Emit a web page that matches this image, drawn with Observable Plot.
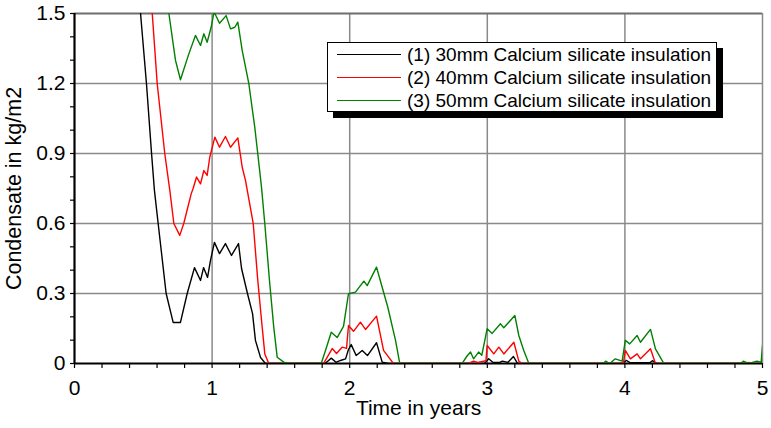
<!DOCTYPE html>
<html>
<head>
<meta charset="utf-8">
<script src="https://cdn.jsdelivr.net/npm/d3@7"></script>
<script src="https://cdn.jsdelivr.net/npm/@observablehq/plot@0.6"></script>
<style>
  html, body { margin: 0; padding: 0; background: #fff; }
  #wrap { position: relative; width: 771px; height: 428px; font-family: "Liberation Sans", Arial, sans-serif; }
  #legend { position: absolute; left: 327px; top: 42px; width: 388px; height: 68px; border: 1px solid #000; background: #fff; box-shadow: 6px 6px 0 #000; }
  .lline { position: absolute; left: 9px; width: 64px; height: 0; }
  .ltext { position: absolute; left: 79px; height: 22px; line-height: 22px; font-size: 19px; color: #000; white-space: nowrap; }
</style>
</head>
<body>
<div id="wrap"></div>
<script>
// Series names
const seriesNames = [
  "(1) 30mm Calcium silicate insulation",
  "(2) 40mm Calcium silicate insulation",
  "(3) 50mm Calcium silicate insulation"
];
const seriesColors = ["#000000", "#ff0000", "#008000"];

// Series 1 (30mm)
const t1 = [0.48,0.523,0.56,0.581,0.608,0.666,0.717,0.77,0.819,0.872,0.916,0.938,0.967,0.988,1.017,1.054,1.097,1.141,1.192,1.214,1.257,1.294,1.315,1.352,1.388,
            1.82,1.84,1.866,1.9,1.933,1.97,1.991,2.011,2.047,2.091,2.129,2.195,2.236,2.282,
            2.98,3.01,3.04,3.09,3.11,3.15,3.19,3.22,
            3.98,4.01,4.04,4.18,4.2,4.23,5];
const v1 = [1.5,1.2,0.9,0.741,0.6,0.3,0.176,0.176,0.3,0.411,0.356,0.411,0.369,0.441,0.519,0.471,0.514,0.463,0.514,0.407,0.3,0.214,0.099,0.026,0,
            0,0.01,0.023,0.005,0.013,0.02,0.06,0.081,0.034,0.056,0.034,0.089,0.006,0,
            0,0.02,0.005,0.005,0.01,0.005,0.03,0,
            0,0.013,0.003,0.003,0.012,0,0];

// Series 2 (40mm)
const t2 = [0.565,0.601,0.656,0.693,0.722,0.765,0.794,0.848,0.862,0.887,0.916,0.94,0.964,0.983,1.02,1.054,1.097,1.134,1.187,1.219,1.243,1.299,1.332,1.364,1.383,1.412,
            1.81,1.873,1.904,1.945,1.977,1.991,2.028,2.078,2.115,2.195,2.246,2.318,
            2.863,2.9,2.93,2.99,2.999,3.047,3.084,3.12,3.193,3.229,3.254,
            3.97,3.99,4.003,4.04,4.089,4.113,4.186,4.222,
            4.88,4.9,4.92,4.99,5];
const v2 = [1.5,1.2,0.9,0.741,0.6,0.549,0.6,0.727,0.75,0.799,0.77,0.827,0.806,0.884,0.97,0.927,0.973,0.927,0.967,0.841,0.784,0.599,0.356,0.156,0.041,0,
            0,0.064,0.043,0.07,0.065,0.163,0.138,0.177,0.146,0.203,0.056,0,
            0,0.01,0.005,0.012,0.077,0.041,0.07,0.041,0.091,0.01,0,
            0,0.005,0.056,0.02,0.041,0.02,0.063,0,
            0,0.005,0,0,0.027];

// Series 3 (50mm)
const t3 = [0.686,0.734,0.77,0.831,0.879,0.916,0.94,0.964,0.993,1.012,1.02,1.054,1.102,1.134,1.165,1.187,1.219,1.267,1.31,1.332,1.359,1.383,1.417,1.448,1.473,1.521,1.557,
            1.793,1.824,1.866,1.909,1.955,1.991,2.042,2.103,2.127,2.195,2.236,2.277,2.333,2.364,
            2.817,2.85,2.878,2.9,2.937,2.96,2.999,3.035,3.096,3.12,3.2,3.229,3.265,3.302,
            3.84,3.86,3.89,3.93,3.98,4.003,4.035,4.089,4.113,4.186,4.222,4.283,
            4.84,4.86,4.9,4.96,4.99,5];
const v3 = [1.5,1.299,1.216,1.327,1.406,1.363,1.413,1.377,1.441,1.499,1.5,1.458,1.491,1.434,1.441,1.463,1.341,1.199,1.013,0.899,0.756,0.599,0.356,0.156,0.027,0.006,0,
            0,0.056,0.134,0.111,0.159,0.299,0.306,0.353,0.334,0.413,0.327,0.241,0.099,0,
            0,0.03,0.049,0.02,0.049,0.035,0.149,0.129,0.17,0.153,0.206,0.12,0.056,0,
            0,0.01,0,0.02,0.01,0.099,0.084,0.12,0.091,0.146,0.063,0,
            0,0.01,0,0.01,0.005,0.077];

// Axis ticks
const xMajor = [0, 1, 2, 3, 4, 5];
const xMinor = d3.range(0, 5.0001, 0.2).map(d => +d.toFixed(1));
const yMajor = [0, 0.3, 0.6, 0.9, 1.2, 1.5];
const yMinor = d3.range(0, 1.5001, 0.1).map(d => +d.toFixed(1));

const tSeries = [t1, t2, t3];
const vSeries = [v1, v2, v3];
const rows = [];
tSeries.forEach((ts, i) => ts.forEach((t, j) => rows.push({t, v: vSeries[i][j], s: seriesNames[i]})));

const font = "Liberation Sans, Arial, sans-serif";

const chart = Plot.plot({
  width: 771,
  height: 428,
  marginLeft: 74,
  marginRight: 9,
  marginTop: 13,
  marginBottom: 65,
  style: {fontFamily: font, fontSize: "21px", color: "#000", background: "#fff"},
  x: {domain: [0, 5], label: null},
  y: {domain: [0, 1.5], label: null},
  color: {domain: seriesNames, range: seriesColors},
  marks: [
    Plot.gridX(xMajor.filter(d => d > 0), {stroke: "#8a8a8a", strokeOpacity: 1, strokeWidth: 1.5}),
    Plot.gridY(yMajor.filter(d => d > 0 && d < 1.5), {stroke: "#8a8a8a", strokeOpacity: 1, strokeWidth: 1.5}),
    Plot.ruleY([1.5], {stroke: "#6e6e6e", strokeWidth: 2}),
    Plot.axisX({ticks: xMinor, tickSize: 5, tickFormat: () => "", stroke: "#000", strokeWidth: 1.2, label: null}),
    Plot.axisY({ticks: yMinor, tickSize: 4, tickFormat: () => "", stroke: "#000", strokeWidth: 1.2, label: null}),
    Plot.axisX({ticks: xMajor, tickSize: 0, tickPadding: 17, tickFormat: d => String(d), fontSize: 21, label: null}),
    Plot.axisY({ticks: yMajor, tickSize: 0, tickPadding: 9, tickFormat: d => d === 0 ? "0" : d.toFixed(1), fontSize: 21, label: null}),
    Plot.ruleX([0], {stroke: "#000", strokeWidth: 2.2}),
    Plot.ruleY([0], {stroke: "#000", strokeWidth: 2.2}),
    Plot.line(rows, {x: "t", y: "v", z: "s", stroke: "s", strokeWidth: 1.4, clip: true}),
    Plot.text(["Time in years"], {frameAnchor: "bottom", textAnchor: "middle", text: d => d, dy: 51, fontSize: 21, fill: "#000"}),
    Plot.text(["Condensate in kg/m2"], {frameAnchor: "left", textAnchor: "middle", text: d => d, dx: -60, rotate: -90, fontSize: 21.5, fill: "#000"})
  ]
});

const wrap = document.getElementById("wrap");
wrap.appendChild(chart);

// Legend
const legend = document.createElement("div");
legend.id = "legend";
seriesNames.forEach((name, i) => {
  const cy = 12 + 23 * i;
  const ln = document.createElement("div");
  ln.className = "lline";
  ln.style.top = (cy - 1) + "px";
  ln.style.borderTop = "1.4px solid " + seriesColors[i];
  legend.appendChild(ln);
  const tx = document.createElement("div");
  tx.className = "ltext";
  tx.style.top = (cy - 11) + "px";
  tx.textContent = name;
  legend.appendChild(tx);
});
wrap.appendChild(legend);
</script>
</body>
</html>
